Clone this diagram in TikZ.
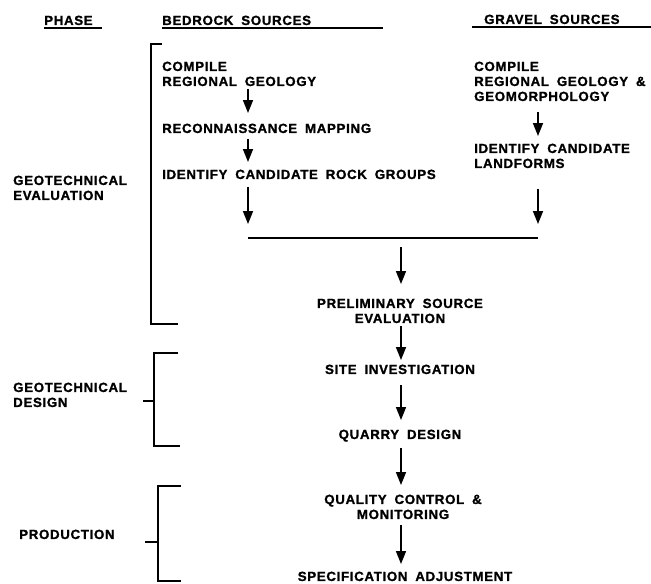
\documentclass[tikz,border=0pt]{standalone}
\usepackage{fontspec}
\setmainfont{Liberation Sans Bold}[LetterSpace=5,WordSpace={1.8},FakeBold=1.2]
\usetikzlibrary{arrows.meta}
\begin{document}
\begin{tikzpicture}[x=1pt,y=-1pt,
  lbl/.style={inner sep=0pt,font=\fontsize{13.3}{15}\selectfont,align=left,anchor=north west},
  clbl/.style={lbl,align=center,anchor=north},
  arr/.style={line width=1.7pt,-{Triangle[width=10pt,length=13pt]}},
  rulebar/.style={line width=1.7pt},
  brk/.style={line width=1.6pt}]
\useasboundingbox (0,0) rectangle (651,584);

% headers
\node[lbl] (phase) at (44,15.5) {PHASE};
\node[lbl] (bedrock) at (162,15.5) {BEDROCK SOURCES};
\node[lbl] (gravel) at (484,14.5) {GRAVEL SOURCES};
\draw[rulebar] (44,28) -- (102,28);
\draw[rulebar] (162,28) -- (383,28);
\draw[rulebar] (472,27) -- (651,27);

% phase labels and brackets
\node[lbl] (geoeval) at (13,175.5) {GEOTECHNICAL\\EVALUATION};
\node[lbl] (geodes) at (13,382.5) {GEOTECHNICAL\\DESIGN};
\node[lbl] (prod) at (19,529.5) {PRODUCTION};
\draw[brk] (162,44) -- (151,44) -- (151,324) -- (178,324);
\draw[brk] (178,353) -- (154,353) -- (154,446) -- (180,446);
\draw[brk] (143,401) -- (154,401);
\draw[brk] (181,486) -- (158,486) -- (158,581) -- (181,581);
\draw[brk] (145,542) -- (158,542);

% bedrock column
\node[lbl] (compileB) at (162,61.5) {COMPILE\\REGIONAL GEOLOGY};
\node[lbl] (reconB) at (162,123.5) {RECONNAISSANCE MAPPING};
\node[lbl] (identB) at (162,169.5) {IDENTIFY CANDIDATE ROCK GROUPS};

% gravel column
\node[lbl] (compileG) at (474,61.5) {COMPILE\\REGIONAL GEOLOGY \&\\GEOMORPHOLOGY};
\node[lbl] (identG) at (474,143.5) {IDENTIFY CANDIDATE\\LANDFORMS};

% central column
\node[clbl] (prelim) at (400,298.5) {PRELIMINARY SOURCE\\EVALUATION};
\node[clbl] (site) at (400,364.5) {SITE INVESTIGATION};
\node[clbl] (quarry) at (400,429.5) {QUARRY DESIGN};
\node[clbl] (quality) at (403,494.5) {QUALITY CONTROL \&\\MONITORING};
\node[clbl] (spec) at (405,571.5) {SPECIFICATION ADJUSTMENT};

\coordinate (ax) at (248,0);
\coordinate (gx) at (538,0);
\coordinate (cx) at (401,0);
\coordinate (jl) at (248,238);
\coordinate (jr) at (538,238);

% connectors
\draw[arr,shorten <=2.5pt,shorten >=10.5pt] (compileB.south -| ax) -- (reconB.north -| ax);
\draw[arr,shorten <=5.5pt,shorten >=7.5pt] (reconB.south -| ax) -- (identB.north -| ax);
\draw[arr,shorten <=7.5pt,shorten >=14pt] (identB.south -| ax) -- (jl);
\draw[arr,shorten <=10.5pt,shorten >=7.5pt] (compileG.south -| gx) -- (identG.north -| gx);
\draw[arr,shorten <=20.5pt,shorten >=14pt] (identG.south -| gx) -- (jr);
\draw[rulebar] (jl) -- (jr);
\draw[arr,shorten <=9pt,shorten >=14.5pt] (jl -| cx) -- (prelim.north -| cx);
\draw[arr,shorten <=2.5pt,shorten >=4.5pt] (prelim.south -| cx) -- (site.north -| cx);
\draw[arr,shorten <=10.5pt,shorten >=9.5pt] (site.south -| cx) -- (quarry.north -| cx);
\draw[arr,shorten <=6pt,shorten >=9.5pt] (quarry.south -| cx) -- (quality.north -| cx);
\draw[arr,shorten <=5.5pt,shorten >=7.5pt] (quality.south -| cx) -- (spec.north -| cx);
\end{tikzpicture}
\end{document}
